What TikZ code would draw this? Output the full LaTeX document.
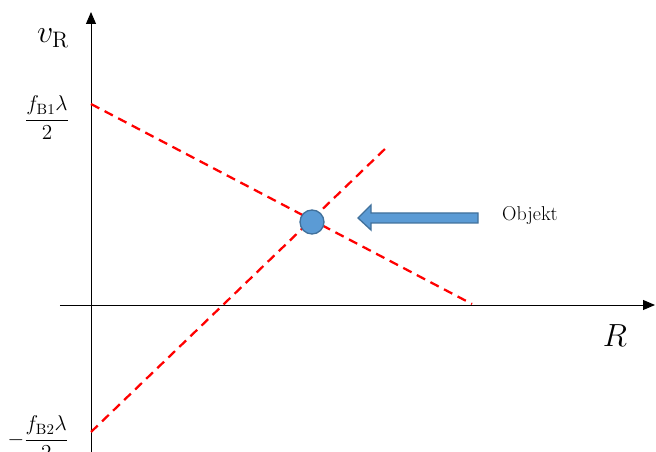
\RequirePackage{fix-cm}
\documentclass[tikz,border=0pt]{standalone}
\usepackage{amsmath}
\usetikzlibrary{arrows.meta,positioning}
\definecolor{objblue}{HTML}{5B9BD5}
\definecolor{objedge}{HTML}{41719C}
\tikzset{
    axis/.style={
        line width=0.7pt,
        -{Triangle[length=9pt,width=7.5pt]}
    },
    kennlinie/.style={
        draw=red,
        line width=1.7pt,
        dash pattern=on 7pt off 4.5pt
    },
    dot/.style={
        shape=circle,
        fill=objblue,
        draw=objedge,
        line width=1pt,
        minimum size=18pt,
        inner sep=0pt
    },
    pfeil/.style={
        fill=objblue,
        draw=objedge,
        line width=1pt
    },
    ticklabel/.style={
        font=\fontsize{16}{18}\selectfont
    },
    objlabel/.style={
        font=\fontsize{15}{17}\selectfont
    },
    axislabel/.style={
        font=\fontsize{24}{26}\selectfont
    }
}

\begin{document}
\begin{tikzpicture}[x=0.75pt, y=0.75pt]
    \useasboundingbox (-91,-147) rectangle (565,305);
    % axes
    \coordinate (o) at (0,0);
    \coordinate (xs) at (-31,0);
    \coordinate (xe) at (564,0);
    \coordinate (ys) at (0,-147);
    \coordinate (ye) at (0,293);
    \draw [axis] (xs) -- (xe);
    \draw [axis] (ys) -- (ye);

    \node (vr) at (-38,267) [axislabel] {$v_{\mathrm{R}}$};
    \node (r) at (524,-31) [axislabel] {$R$};

    % frequency lines
    \coordinate (b1) at (0,201);
    \coordinate (b1e) at (381,1);
    \coordinate (b2) at (0,-127);
    \coordinate (b2e) at (296,158);
    \draw [kennlinie] (b1) -- (b1e);
    \draw [kennlinie] (b2) -- (b2e);

    \node (fb1) at (-44,187) [ticklabel] {$\dfrac{f_{\mathrm{B1}}\lambda}{2}$};
    \node (fb2) at (-53,-133) [ticklabel] {$-\dfrac{f_{\mathrm{B2}}\lambda}{2}$};

    % object
    \node (obj) at (221,83) [dot] {};
    \draw [pfeil] (387,82) -- (280,82) -- (280,75) -- (267,87)
        -- (280,100) -- (280,92) -- (387,92) -- cycle;
    \node (objtext) at (439,89) [objlabel] {Objekt};
\end{tikzpicture}
\end{document}
